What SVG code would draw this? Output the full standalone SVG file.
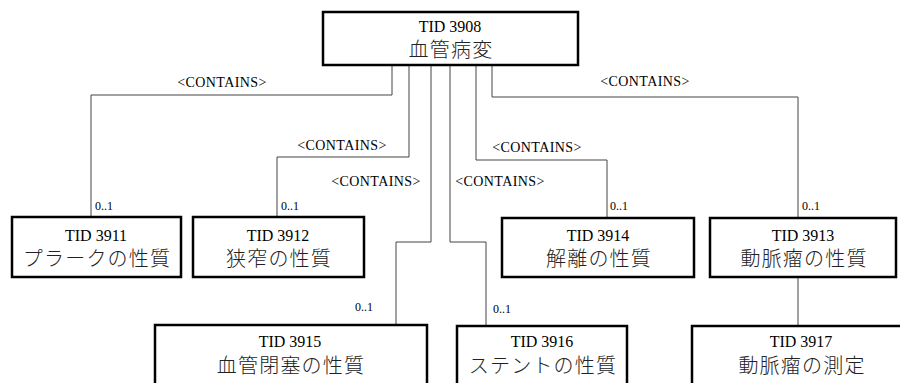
<svg xmlns="http://www.w3.org/2000/svg" width="900" height="383" viewBox="0 0 900 383">
<style>
.box{fill:#fff;stroke:#000;stroke-width:2.5}
.tid{font-family:"Liberation Serif","Times New Roman",serif;font-size:16px;fill:#000;text-anchor:middle}
.jp{font-family:"Noto Sans CJK JP",sans-serif;font-size:20px;font-weight:300;letter-spacing:1.2px;fill:#222;text-anchor:middle}
.conn{fill:none;stroke:#444;stroke-width:1}
.lbl{font-family:"Liberation Serif","Times New Roman",serif;font-size:14px;letter-spacing:0.4px;fill:#000;text-anchor:middle}
.card{font-family:"Liberation Serif","Times New Roman",serif;font-size:12px;fill:#000}
</style>
<rect width="900" height="383" fill="#fff"/>
<g id="connectors">
<polyline class="conn" points="392,65 392,95 91,95 91,217"/>
<polyline class="conn" points="409,65 409,157 277,157 277,217"/>
<polyline class="conn" points="431,65 431,242 396,242 396,325"/>
<polyline class="conn" points="450,65 450,242 486,242 486,326"/>
<polyline class="conn" points="476,65 476,160 607,160 607,218"/>
<polyline class="conn" points="492,65 492,97 798,97 798,218"/>
<line class="conn" x1="798" y1="277" x2="798" y2="326"/>
<text class="lbl" x="222" y="87">&lt;CONTAINS&gt;</text>
<text class="lbl" x="342" y="150">&lt;CONTAINS&gt;</text>
<text class="lbl" x="376" y="186">&lt;CONTAINS&gt;</text>
<text class="lbl" x="500" y="186">&lt;CONTAINS&gt;</text>
<text class="lbl" x="537" y="152">&lt;CONTAINS&gt;</text>
<text class="lbl" x="645" y="86">&lt;CONTAINS&gt;</text>
<text class="card" x="95" y="210">0..1</text>
<text class="card" x="281" y="210">0..1</text>
<text class="card" x="610" y="210">0..1</text>
<text class="card" x="802" y="210">0..1</text>
<text class="card" x="355" y="311">0..1</text>
<text class="card" x="493" y="313">0..1</text>
</g>
<g id="tid3908">
<rect class="box" x="323" y="12" width="255" height="53"/>
<text class="tid" x="450" y="32">TID 3908</text>
<text class="jp" x="451" y="57">血管病変</text>
</g>
<g id="tid3911">
<rect class="box" x="12" y="217" width="169" height="60"/>
<text class="tid" x="96" y="241">TID 3911</text>
<text class="jp" x="97" y="266">プラークの性質</text>
</g>
<g id="tid3912">
<rect class="box" x="193" y="217" width="171" height="60"/>
<text class="tid" x="278" y="241">TID 3912</text>
<text class="jp" x="279" y="266">狭窄の性質</text>
</g>
<g id="tid3914">
<rect class="box" x="502" y="218" width="192" height="59"/>
<text class="tid" x="598" y="241">TID 3914</text>
<text class="jp" x="599" y="266">解離の性質</text>
</g>
<g id="tid3913">
<rect class="box" x="710" y="218" width="186" height="59"/>
<text class="tid" x="803" y="241">TID 3913</text>
<text class="jp" x="804" y="266">動脈瘤の性質</text>
</g>
<g id="tid3915">
<rect class="box" x="155" y="325" width="272" height="62"/>
<text class="tid" x="290" y="347">TID 3915</text>
<text class="jp" x="291" y="373">血管閉塞の性質</text>
</g>
<g id="tid3916">
<rect class="box" x="457" y="326" width="170" height="62"/>
<text class="tid" x="542" y="347">TID 3916</text>
<text class="jp" x="543" y="373">ステントの性質</text>
</g>
<g id="tid3917">
<rect class="box" x="692" y="326" width="218" height="62"/>
<text class="tid" x="801" y="347">TID 3917</text>
<text class="jp" x="802" y="373">動脈瘤の測定</text>
</g>
</svg>
